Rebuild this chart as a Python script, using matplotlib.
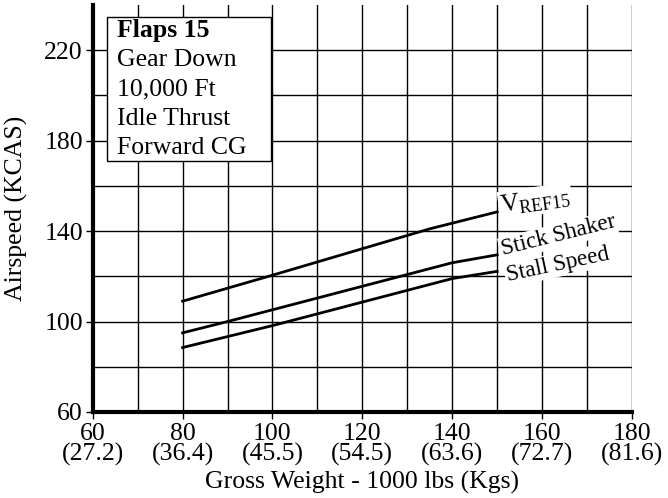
import matplotlib
matplotlib.use("Agg")
import matplotlib.pyplot as plt

plt.rcParams['font.family'] = ['Liberation Serif', 'DejaVu Serif']
plt.rcParams['mathtext.fontset'] = 'custom'
plt.rcParams['mathtext.rm'] = 'Liberation Serif'

# Data
vref_x = [80, 100, 135, 150]
vref_y = [109, 120.5, 141, 148.5]
shaker_x = [80, 90, 140, 150]
shaker_y = [95, 100, 126, 129.5]
stall_x = [80, 100, 140, 150]
stall_y = [88.5, 98.2, 119, 122.2]

x_ticks = [60, 80, 100, 120, 140, 160, 180]
x_kg = ['27.2', '36.4', '45.5', '54.5', '63.6', '72.7', '81.6']
y_ticks = [60, 100, 140, 180, 220]
info_lines = ['Flaps 15', 'Gear Down', '10,000 Ft', 'Idle Thrust', 'Forward CG']

FS = 18.5

fig = plt.figure(figsize=(6.68, 4.98), dpi=100)
ax = fig.add_axes([0.1388, 0.1727, 0.946 - 0.1388, 0.99 - 0.1727])
ax.set_xlim(60, 180)
ax.set_ylim(60, 240)

# grid
for gx in range(70, 181, 10):
    ax.axvline(gx, color='black', lw=1, zorder=1)
for gy in range(80, 240, 20):
    ax.axhline(gy, color='black', lw=1, zorder=1)

for s in ['top', 'right']:
    ax.spines[s].set_visible(False)
ax.spines['left'].set_linewidth(3)
ax.spines['bottom'].set_linewidth(3)

ax.set_xticks(x_ticks)
ax.set_xticklabels([f"{v}\n({k})" for v, k in zip(x_ticks, x_kg)], fontsize=FS, linespacing=0.85)
ax.set_yticks(y_ticks)
ax.set_yticklabels([str(v) for v in y_ticks], fontsize=FS)
ax.tick_params(axis='y', length=5, width=1, pad=2)
ax.tick_params(axis='x', length=5, width=1, pad=3)

ax.plot(vref_x, vref_y, color='black', lw=2, zorder=3)
ax.plot(shaker_x, shaker_y, color='black', lw=2, zorder=3)
ax.plot(stall_x, stall_y, color='black', lw=2, zorder=3)

bb = dict(facecolor='white', edgecolor='none', pad=1)
ax.text(150.8, 148.4, r'V$_{\mathregular{REF15}}$', fontsize=18.5, rotation=8,
        rotation_mode='anchor', ha='left', va='baseline', bbox=bb, zorder=4)
ax.text(151.2, 129.3, 'Stick Shaker', fontsize=16.7, rotation=14,
        rotation_mode='anchor', ha='left', va='baseline', bbox=bb, zorder=4)
ax.text(152.3, 117.8, 'Stall Speed', fontsize=16.7, rotation=12,
        rotation_mode='anchor', ha='left', va='baseline', bbox=bb, zorder=4)

# info box
bx0, by0 = (107 - 92.7) / 539.3, (412 - 161) / 407
bw, bh = (270.7 - 107) / 539.3, (161 - 17.3) / 407
rect = plt.Rectangle((bx0, by0), bw, bh, transform=ax.transAxes, facecolor='white',
                     edgecolor='black', lw=1, zorder=5)
ax.add_patch(rect)
for i, line in enumerate(info_lines):
    ax.text(bx0 + 0.018, 1 - (37 + 29.3 * i - 5) / 407, line, transform=ax.transAxes,
            fontsize=FS, fontweight='bold' if i == 0 else 'normal',
            ha='left', va='baseline', zorder=6)

ax.set_xlabel('Gross Weight - 1000 lbs (Kgs)', fontsize=FS, labelpad=4)
ax.set_ylabel('Airspeed (KCAS)', fontsize=FS, labelpad=12)

fig.savefig('out.png', dpi=100)
